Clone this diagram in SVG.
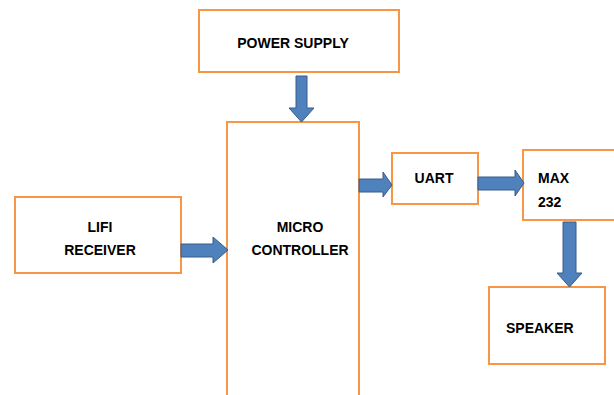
<svg xmlns="http://www.w3.org/2000/svg" width="614" height="395" viewBox="0 0 614 395">
<style>
.box{fill:#fff;stroke:#F79646;stroke-width:2}
.arr{fill:#4F81BD;stroke:#385D8A;stroke-width:1}
.t{font-family:"Liberation Sans",Arial,sans-serif;font-weight:bold;font-size:14px;fill:#000}
.c{text-anchor:middle}
</style>
<rect width="614" height="395" fill="#fff"/>
<g id="power-supply"><rect class="box" x="199" y="10" width="200" height="62"/><text class="t c" x="293" y="48">POWER SUPPLY</text></g>
<g id="micro-controller"><rect class="box" x="227" y="122" width="132" height="280"/><text class="t c" x="300" y="232">MICRO</text><text class="t c" x="300" y="255">CONTROLLER</text></g>
<g id="lifi-receiver"><rect class="box" x="15" y="197" width="166" height="76"/><text class="t c" x="100" y="232">LIFI</text><text class="t c" x="100" y="255">RECEIVER</text></g>
<g id="uart"><rect class="box" x="392" y="153" width="86" height="51"/><text class="t c" x="434" y="183">UART</text></g>
<g id="max232"><rect class="box" x="523" y="150" width="96" height="70"/><text class="t" x="538" y="183">MAX</text><text class="t" x="538" y="207">232</text></g>
<g id="speaker"><rect class="box" x="489" y="287" width="116" height="77"/><text class="t" x="506" y="333">SPEAKER</text></g>
<g id="connectors">
<polygon class="arr" points="296,76 307,76 307,108 314,108 301.5,122 289,108 296,108"/>
<polygon class="arr" points="181,244 213,244 213,237 228,250 213,263 213,257 181,257"/>
<polygon class="arr" points="359,179 383,179 383,172 392,185 383,197 383,192 359,192"/>
<polygon class="arr" points="478,177 515,177 515,170 524,183 515,196 515,190 478,190"/>
<polygon class="arr" points="563,222 576,222 576,273 582,273 569.5,287 557,273 563,273"/>
</g>
</svg>
